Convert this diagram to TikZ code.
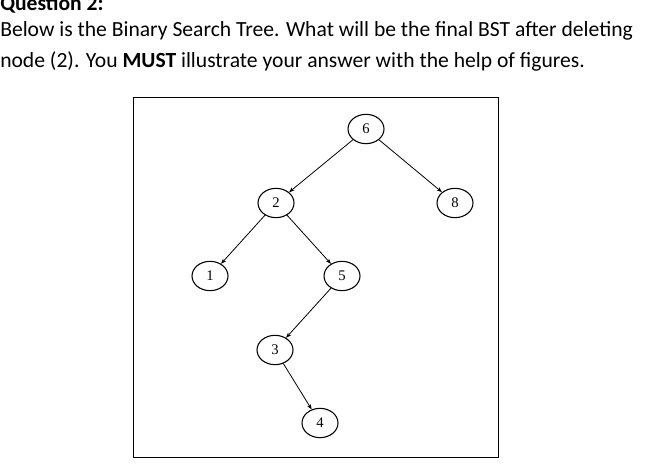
\documentclass[tikz,border=0pt]{standalone}
\usepackage{fontspec}
\setmainfont{Carlito}
\newfontfamily\serifnode{Liberation Serif}
\begin{document}
\begin{tikzpicture}[x=0.75pt,y=-0.75pt,
  txt/.style={anchor=west,inner sep=0,font=\fontsize{16.2}{19}\selectfont},
  bst/.style={ellipse,draw,line width=0.8pt,minimum width=27pt,minimum height=22pt,inner sep=0,font=\serifnode\fontsize{11}{12}\selectfont},
  edge/.style={-{Stealth[length=4pt,width=3pt]},line width=0.6pt}]
\usetikzlibrary{shapes.geometric,arrows.meta}
\useasboundingbox (0,0) rectangle (666,466);
\clip (0,0) rectangle (666,466);
\node[txt] (q) at (0,4) {\textbf{Question 2:}};
\node[txt] (l1) at (0,31) {Below is the Binary Search Tree. What will be the final BST after deleting};
\node[txt] (l2) at (0,61) {node (2). You \textbf{MUST} illustrate your answer with the help of figures.};
\draw[line width=0.6pt] (133,97) rectangle (498,457);
\node[bst] (n6) at (366,129) {6};
\node[bst] (n8) at (455,203) {8};
\node[bst] (n2) at (276,203) {2};
\node[bst] (n1) at (210,276) {1};
\node[bst] (n5) at (342,276) {5};
\node[bst] (n3) at (275,350) {3};
\node[bst] (n4) at (320,423) {4};
\draw[edge] (n6) -- (n2);
\draw[edge] (n6) -- (n8);
\draw[edge] (n2) -- (n1);
\draw[edge] (n2) -- (n5);
\draw[edge] (n5) -- (n3);
\draw[edge] (n3) -- (n4);
\end{tikzpicture}
\end{document}
